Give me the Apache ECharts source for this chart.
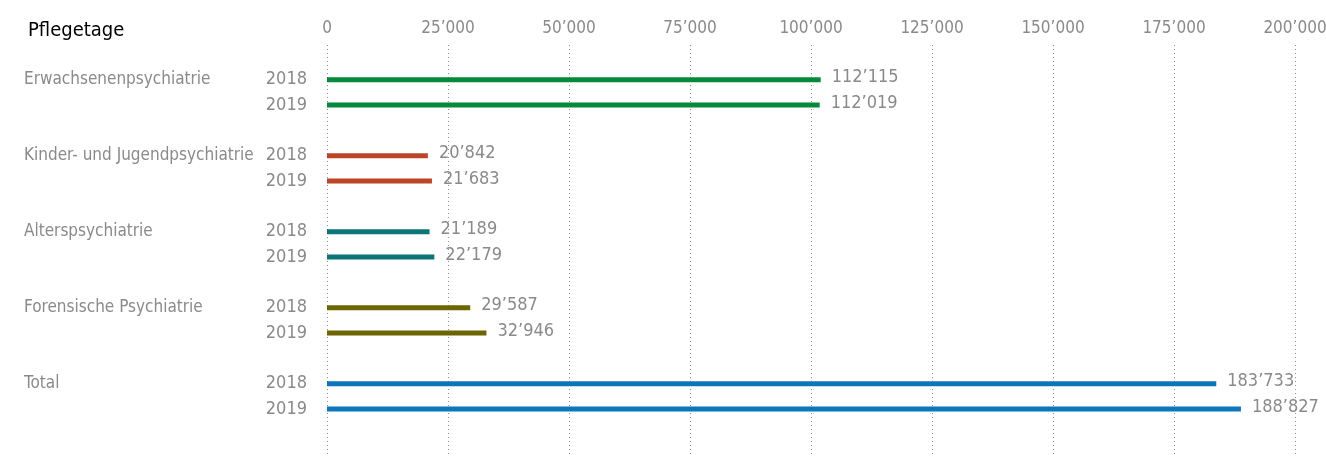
<!DOCTYPE html>
<html><head><meta charset="utf-8">
<script src="https://cdn.jsdelivr.net/npm/echarts@6/dist/echarts.min.js"></script>
<style>html,body{margin:0;padding:0;background:#fff}#c{width:1326px;height:458px}</style>
</head><body><div id="c"></div>
<script>
const title = 'Pflegetage';
const groups = ['Erwachsenenpsychiatrie', 'Kinder- und Jugendpsychiatrie', 'Alterspsychiatrie', 'Forensische Psychiatrie', 'Total'];
const years = ['2018', '2019'];
const colors = ['#058a3b', '#bb4527', '#0b7577', '#6c6501', '#0b76bb'];
// values printed as labels
const labels2018 = [112115, 20842, 21189, 29587, 183733];
const labels2019 = [112019, 21683, 22179, 32946, 188827];
// bar lengths as drawn in the reference (Erwachsenenpsychiatrie bars are drawn shorter than their labels)
const bars2018 = [102000, 20842, 21189, 29587, 183733];
const bars2019 = [101800, 21683, 22179, 32946, 188827];
const xTicks = [0, 25000, 50000, 75000, 100000, 125000, 150000, 175000, 200000];

const FONT = '"Liberation Sans Narrow", "DejaVu Sans Condensed", sans-serif';
const fmt = v => String(v).replace(/\B(?=(\d{3})+(?!\d))/g, '\u2019');

const cats = [], yearLab = [], groupLab = [], data = [];
groups.forEach((g, i) => {
  [[bars2018, labels2018], [bars2019, labels2019]].forEach(([b, l], k) => {
    cats.push(g + '|' + years[k]);
    yearLab.push(years[k]);
    groupLab.push(k === 0 ? g : '');
    data.push({ value: b[i], itemStyle: { color: colors[i] }, labelText: fmt(l[i]) });
  });
  if (i < groups.length - 1) { cats.push('gap' + i); yearLab.push(''); groupLab.push(''); data.push({ value: '-' }); }
});
cats.push('gapEnd'); yearLab.push(''); groupLab.push(''); data.push({ value: '-' });

const chart = echarts.init(document.getElementById('c'));
chart.setOption({
  animation: false,
  textStyle: { fontFamily: FONT },
  title: { text: title, left: 23, top: 16, textStyle: { fontFamily: FONT, fontSize: 20, fontWeight: 'normal', color: '#000' } },
  grid: [
    { left: 327, right: 31, top: 45, bottom: 4, outerBoundsMode: 'none', containLabel: false },
    { left: 327, right: 31, top: 67, bottom: 11, outerBoundsMode: 'none', containLabel: false }
  ],
  xAxis: [
    { gridIndex: 0, type: 'value', min: 0, max: 200000, interval: 25000, position: 'top',
      axisLine: { show: false }, axisTick: { show: false },
      axisLabel: { color: '#8a8a8a', fontSize: 17, margin: 8, fontFamily: FONT, formatter: v => fmt(v) },
      splitLine: { show: true, lineStyle: { color: '#8f8f8f', type: [1, 3], width: 1 } } },
    { gridIndex: 1, type: 'value', min: 0, max: 200000, show: false }
  ],
  yAxis: [
    { gridIndex: 0, type: 'category', data: ['a'], show: false },
    { gridIndex: 1, type: 'category', data: cats, inverse: true,
      axisLine: { show: false }, axisTick: { show: false }, splitLine: { show: false },
      axisLabel: { interval: 0, color: '#8a8a8a', fontSize: 18, margin: 20, fontFamily: FONT,
        padding: [0, 0, 6, 0], formatter: (v, i) => yearLab[i] } },
    { gridIndex: 1, type: 'category', data: cats, inverse: true, position: 'left',
      axisLine: { show: false }, axisTick: { show: false }, splitLine: { show: false },
      axisLabel: { interval: 0, color: '#8a8a8a', fontSize: 17, margin: 303, align: 'left', fontFamily: FONT,
        padding: [0, 0, 8, 0], formatter: (v, i) => groupLab[i] } }
  ],
  series: [{
    type: 'bar', xAxisIndex: 1, yAxisIndex: 1, barWidth: 5, data: data,
    label: { show: true, position: 'right', distance: 11, offset: [0, -2], color: '#8a8a8a', fontSize: 18, fontFamily: FONT,
      formatter: p => p.data.labelText || '' }
  }]
});
</script></body></html>
